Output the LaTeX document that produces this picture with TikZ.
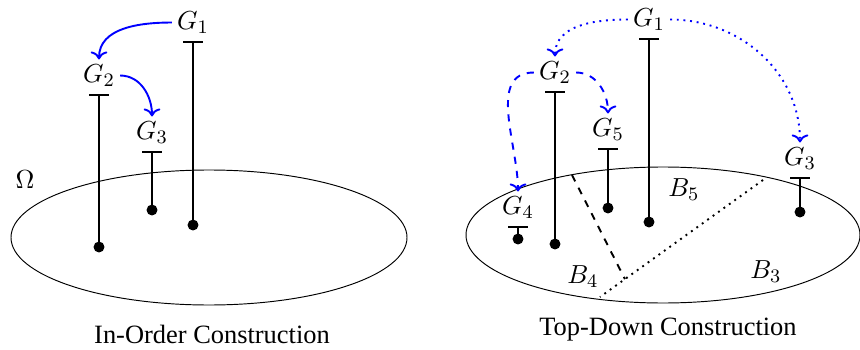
\documentclass[tikz,border=0pt]{standalone}
\usepackage{fontspec}
\setmainfont{Liberation Serif}
\usetikzlibrary{arrows.meta,positioning,calc}

\begin{document}
\begin{tikzpicture}[
x=0.42pt, y=-0.42pt,
every node/.style={font=\fontsize{11.1}{13}\selectfont},
lbl/.style={inner sep=2pt},
stem/.style={{Bar[width=8.4pt]}-, thick},
dot/.style={circle, fill, inner sep=0pt, minimum size=4.6pt},
order/.style={->, thick, blue},
split/.style={->, thick, blue, dashed},
far/.style={->, thick, blue, dotted}
]
\useasboundingbox (0,0) rectangle (860,350);

% in-order construction
\draw (209,237.5) ellipse [x radius=198, y radius=67.5];
\node (omega) at (25,180) {$\Omega$};

\coordinate (iot1) at (193,41);
\coordinate (iot2) at (99,94);
\coordinate (iot3) at (152,151);
\node[dot] (iod1) at (193,225) {};
\node[dot] (iod2) at (99,247) {};
\node[dot] (iod3) at (152,210) {};
\node[lbl, above=1pt of iot1] (iog1) {$G_1$};
\node[lbl, above=1pt of iot2] (iog2) {$G_2$};
\node[lbl, above=1pt of iot3] (iog3) {$G_3$};

\draw[stem] (iot1) -- (iod1.center);
\draw[stem] (iot2) -- (iod2.center);
\draw[stem] (iot3) -- (iod3.center);

\draw[order] (iog1.west) to[out=180, in=90] (iog2.north);
\draw[order] (iog2.east) to[out=0, in=90] (iog3.north);

\node (iocap) at (212,334) {In-Order Construction};

% top-down construction
\draw (663,235) ellipse [x radius=197, y radius=68];
\coordinate (cuta) at (763,180);
\coordinate (cutb) at (600,297);
\coordinate (cutc) at (572,175);
\coordinate (cutm) at ($(cuta)!0.847!(cutb)$);
\draw[dotted, thick] (cuta) -- (cutb);
\draw[dashed, thick] (cutc) -- (cutm);

\coordinate (tdt1) at (649,38);
\coordinate (tdt2) at (555,91);
\coordinate (tdt3) at (800,177);
\coordinate (tdt4) at (518,226);
\coordinate (tdt5) at (608,148);
\node[dot] (tdd1) at (649,222) {};
\node[dot] (tdd2) at (555,244) {};
\node[dot] (tdd3) at (800,212) {};
\node[dot] (tdd4) at (518,239) {};
\node[dot] (tdd5) at (608,208) {};
\node[lbl, above=1pt of tdt1] (tdg1) {$G_1$};
\node[lbl, above=1pt of tdt2] (tdg2) {$G_2$};
\node[lbl, above=1pt of tdt3] (tdg3) {$G_3$};
\node[lbl, above=1pt of tdt4] (tdg4) {$G_4$};
\node[lbl, above=1pt of tdt5] (tdg5) {$G_5$};

\draw[stem] (tdt1) -- (tdd1.center);
\draw[stem] (tdt2) -- (tdd2.center);
\draw[stem] (tdt3) -- (tdd3.center);
\draw[stem] (tdt4) -- (tdd4.center);
\draw[stem] (tdt5) -- (tdd5.center);

\draw[far] (tdg1.west) to[out=180, in=90] (tdg2.north);
\draw[far] (tdg1.east) to[out=0, in=90] (tdg3.north);
\draw[split] (tdg2.west) to[out=180, in=90] (tdg4.north);
\draw[split] (tdg2.east) to[out=0, in=90] (tdg5.north);

\node (b5) at (684,190) {$B_5$};
\node (b4) at (583,277) {$B_4$};
\node (b3) at (766,272) {$B_3$};

\node (tdcap) at (668,330) {Top-Down Construction};
\end{tikzpicture}
\end{document}
